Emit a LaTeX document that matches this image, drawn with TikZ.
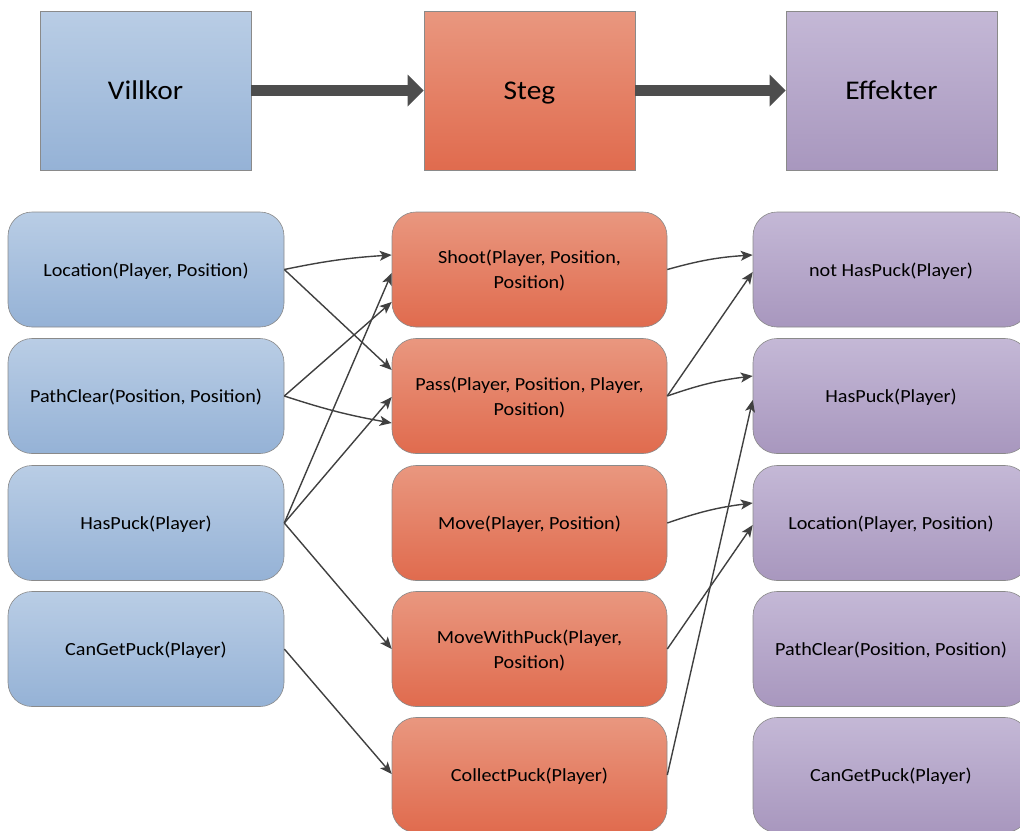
\documentclass[tikz,border=0pt]{standalone}
\usepackage{fontspec}
\setmainfont{Carlito}[FakeStretch=1.09]
\usetikzlibrary{arrows.meta}
\definecolor{condTop}{HTML}{B9CDE5}
\definecolor{condBot}{HTML}{95B2D6}
\definecolor{stepTop}{HTML}{E9977F}
\definecolor{stepBot}{HTML}{E06B4E}
\definecolor{effTop}{HTML}{C4B8D6}
\definecolor{effBot}{HTML}{A897BE}
\definecolor{edgeGray}{HTML}{8A8A8A}
\definecolor{linkGray}{HTML}{404040}
\definecolor{flowGray}{HTML}{4D4D4D}
\begin{document}
\begin{tikzpicture}[x=1pt,y=-1pt,
  header/.style={draw=edgeGray, line width=0.6pt, minimum width=211pt,
    minimum height=159pt, inner sep=0pt, text depth=0pt,
    font=\fontsize{27}{32}\selectfont},
  card/.style={draw=edgeGray, line width=0.6pt, rounded corners=24pt,
    minimum width=276pt, minimum height=115pt, inner sep=0pt, align=center,
    text depth=0pt, font=\fontsize{18.5}{25}\selectfont},
  condfill/.style={top color=condTop, bottom color=condBot},
  stepfill/.style={top color=stepTop, bottom color=stepBot},
  efffill/.style={top color=effTop, bottom color=effBot},
  flow/.style={draw=flowGray, line width=11pt,
    -{Triangle[length=16pt,width=32pt,line width=0pt]}},
  link/.style={draw=linkGray, line width=1.4pt,
    -{Stealth[length=12pt,width=10pt,inset=3pt]}}]
\useasboundingbox (0,0) rectangle (1020,830);
\clip (0,0) rectangle (1020,830);

% column headers
\node[header, condfill] (vk) at (145.5,90.5) {Villkor};
\node[header, stepfill] (st) at (529.5,90.5) {Steg};
\node[header, efffill]  (ef) at (891.5,90.5) {Effekter};
\draw[flow] (vk.east) -- (st.west);
\draw[flow] (st.east) -- (ef.west);

% conditions
\node[card, condfill] (c1) at (146,269.5) {Location(Player, Position)};
\node[card, condfill] (c2) at (146,396) {PathClear(Position, Position)};
\node[card, condfill] (c3) at (146,523) {HasPuck(Player)};
\node[card, condfill] (c4) at (146,649) {CanGetPuck(Player)};

% steps
\node[card, stepfill, minimum width=275pt] (s1) at (529.5,269.5) {Shoot(Player, Position,\\Position)};
\node[card, stepfill, minimum width=275pt] (s2) at (529.5,396) {Pass(Player, Position, Player,\\Position)};
\node[card, stepfill, minimum width=275pt] (s3) at (529.5,523) {Move(Player, Position)};
\node[card, stepfill, minimum width=275pt] (s4) at (529.5,649) {MoveWithPuck(Player,\\Position)};
\node[card, stepfill, minimum width=275pt] (s5) at (529.5,775) {CollectPuck(Player)};

% effects
\node[card, efffill] (e1) at (891,269.5) {not HasPuck(Player)};
\node[card, efffill] (e2) at (891,396) {HasPuck(Player)};
\node[card, efffill] (e3) at (891,523) {Location(Player, Position)};
\node[card, efffill] (e4) at (891,649) {PathClear(Position, Position)};
\node[card, efffill] (e5) at (891,775) {CanGetPuck(Player)};

% conditions -> steps
\draw[link] (c1.east) to[bend left=4] ([yshift=14.5pt]s1.west);
\draw[link] (c1.east) -- ([yshift=26pt]s2.west);
\draw[link] (c2.east) -- ([yshift=-32.5pt]s1.west);
\draw[link] (c2.east) to[bend right=4] ([yshift=-27pt]s2.west);
\draw[link] (c3.east) -- ([yshift=-3.5pt]s1.west);
\draw[link] (c3.east) -- ([yshift=-1pt]s2.west);
\draw[link] (c3.east) -- (s4.west);
\draw[link] (c4.east) -- ([yshift=1pt]s5.west);

% steps -> effects
\draw[link] (s1.east) to[bend left=6] ([yshift=14.5pt]e1.west);
\draw[link] (s2.east) -- ([yshift=-2.5pt]e1.west);
\draw[link] (s2.east) to[bend left=6] ([yshift=20pt]e2.west);
\draw[link] (s3.east) to[bend left=6] ([yshift=20pt]e3.west);
\draw[link] (s4.east) -- ([yshift=-2pt]e3.west);
\draw[link] (s5.east) -- ([yshift=-4pt]e2.west);
\end{tikzpicture}
\end{document}
